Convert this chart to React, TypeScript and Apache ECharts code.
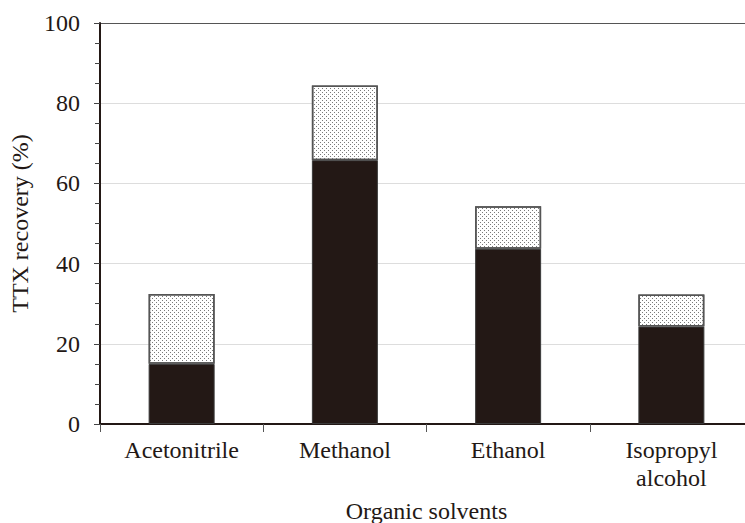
import React, { useEffect, useRef } from "react";
import * as echarts from "echarts";

const categories = ["Acetonitrile", "Methanol", "Ethanol", "Isopropyl\nalcohol"];
const solidValues = [15.0, 65.8, 43.7, 24.3];
const dottedValues = [17.4, 18.6, 10.6, 8.0];
const yTicks = [0, 20, 40, 60, 80, 100];

const FONT = "'Liberation Serif', 'Times New Roman', serif";
const INK = "#231815";

export default function App() {
  const ref = useRef<HTMLDivElement>(null);
  useEffect(() => {
    if (!ref.current) return;
    const chart = echarts.init(ref.current, null, { renderer: "svg" });
    chart.setOption({
      animation: false,
      backgroundColor: "#ffffff",
      grid: {
        left: 100,
        top: 23,
        bottom: 99,
        right: -8,
        containLabel: false,
        outerBoundsMode: "none",
      },
      xAxis: {
        type: "category",
        data: categories,
        name: "Organic solvents",
        nameLocation: "middle",
        nameGap: 75,
        nameTextStyle: { fontFamily: FONT, fontSize: 24, color: INK },
        axisLine: { show: true, lineStyle: { color: INK, width: 2 } },
        axisTick: { show: true, length: 8, lineStyle: { color: "#555", width: 1 } },
        axisLabel: {
          fontFamily: FONT,
          fontSize: 24,
          color: INK,
          margin: 12,
          lineHeight: 28,
          verticalAlign: "top",
        },
        splitLine: { show: false },
      },
      yAxis: {
        type: "value",
        min: yTicks[0],
        max: yTicks[yTicks.length - 1],
        interval: 20,
        name: "TTX recovery (%)",
        nameLocation: "middle",
        nameGap: 68,
        nameTextStyle: { fontFamily: FONT, fontSize: 24, color: INK },
        axisLine: { show: true, lineStyle: { color: INK, width: 2 } },
        axisTick: { show: true, length: 6, lineStyle: { color: "#444", width: 1 } },
        minorTick: { show: true, splitNumber: 4, length: 5, lineStyle: { color: "#444", width: 1 } },
        axisLabel: { fontFamily: FONT, fontSize: 24, color: INK, margin: 20 },
        splitLine: {
          show: true,
          lineStyle: { color: ["#dddddd", "#dddddd", "#dddddd", "#dddddd", "#dddddd", "#555555"], width: 1 },
        },
      },
      series: [
        {
          type: "bar",
          stack: "total",
          data: solidValues,
          barWidth: 66,
          itemStyle: { color: INK, borderColor: "#3a3a3a", borderWidth: 1 },
        },
        {
          type: "bar",
          stack: "total",
          data: dottedValues,
          barWidth: 66,
          itemStyle: {
            color: "#ffffff",
            borderColor: "#555",
            borderWidth: 1.5,
            decal: {
              symbol: "rect",
              symbolSize: 1,
              color: "#7a7a7a",
              backgroundColor: "#ffffff",
              dashArrayX: [[1, 3], [0, 2, 1, 1]],
              dashArrayY: [1, 1],
              rotation: 0,
            },
          },
        },
      ],
    });
    return () => chart.dispose();
  }, []);
  return (
    <div
      ref={ref}
      style={{ position: "absolute", left: 0, top: 0, width: 745, height: 523, background: "#fff" }}
    />
  );
}
